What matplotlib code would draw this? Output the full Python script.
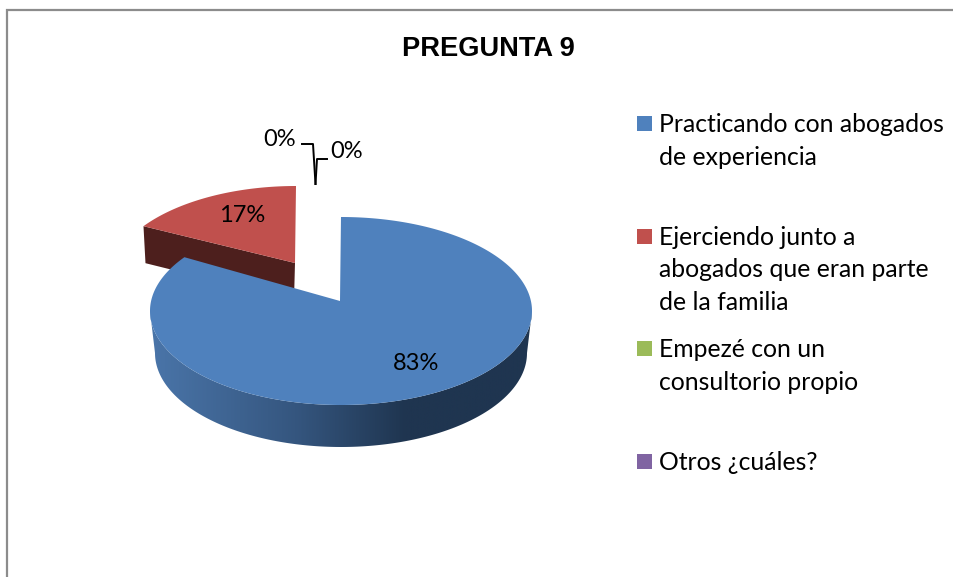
import numpy as np
import matplotlib
matplotlib.use('Agg')
import matplotlib.pyplot as plt
from matplotlib.patches import Polygon, Rectangle
from matplotlib.colors import LinearSegmentedColormap

title = 'PREGUNTA 9'
values = [83, 17, 0, 0]
labels = [['Practicando con abogados', 'de experiencia'],
          ['Ejerciendo junto a', 'abogados que eran parte', 'de la familia'],
          ['Empezé con un', 'consultorio propio'],
          ['Otros ¿cuáles?']]
colors = ['#4f81bd', '#c0504d', '#9bbb59', '#8064a2']

W, H = 954, 577
BODY = 'Lato'

# the picture is a 3D pie, so everything is placed in pixel coordinates
CX, CY = 341, 311
RX, RY = 191, 94
APEX_Y = 301
DEPTH = 42
RX_LOW = 186
RED_DX, RED_DY = -45, -31
RED_RX = 186
RED_APEX_Y = 263
RED_DEPTH = 37
PERSP = 0.9  # perspective squeezes the small slice


def rim(cx, cy, rx, ry, t0, t1, n=200):
    # t in degrees, clockwise from the top of the ellipse
    t = np.radians(np.linspace(t0, t1, n))
    return np.column_stack([cx + rx * np.sin(t), cy - ry * np.cos(t)])


fig = plt.figure(figsize=(W / 100, H / 100), dpi=100)
ax = fig.add_axes([0, 0, 1, 1])
ax.set_xlim(0, W)
ax.set_ylim(H, 0)
ax.axis('off')

# frame of the chart, only top and left fall inside the picture
ax.plot([7, 7, W + 5], [H + 5, 10, 10], color='#8c8c8c', lw=1.6, solid_joinstyle='miter')

ax.text(488, 49.5, title, family='Liberation Sans', weight='bold', fontsize=19.6,
        ha='center', va='center', color='black')

red_sweep = values[1] / sum(values) * 360 * PERSP
blue_sweep = 360 - red_sweep

# red slice, pulled out of the pie
rcx, rcy = CX + RED_DX, CY + RED_DY
red_rim = rim(rcx, rcy, RED_RX, RY, -red_sweep, 0)
red_apex = np.array([rcx - 1, RED_APEX_Y])
face = np.array([red_rim[0], red_rim[0] + [2, RED_DEPTH], red_apex + [-1, RED_DEPTH], red_apex])
ax.add_patch(Polygon(face, fc='#4d1f1d', ec='none', zorder=2))
ax.add_patch(Polygon(np.vstack([red_rim, [red_apex]]), fc=colors[1], ec='none', zorder=3))

# blue slice side wall with the dark gradient
upper = rim(CX, CY, RX, RY, 90, 270)
lower = rim(CX, CY + DEPTH, RX_LOW, RY, 90, 270)
wall = Polygon(np.vstack([upper, lower[::-1]]), fc='none', ec='none', zorder=4)
ax.add_patch(wall)
cmap = LinearSegmentedColormap.from_list('side', [(0, '#1f3550'), (0.33, '#1f3550'), (0.62, '#35567f'), (1, '#4a75a9')])
grad = np.linspace(0, 1, 400)[::-1].reshape(1, -1)
im = ax.imshow(grad, cmap=cmap, extent=[CX - RX, CX + RX, CY + DEPTH + RY, CY], aspect='auto', zorder=4)
im.set_clip_path(wall)
ax.set_xlim(0, W)
ax.set_ylim(H, 0)

# blue top
blue_rim = rim(CX, CY, RX, RY, 0, blue_sweep, 400)
ax.add_patch(Polygon(np.vstack([blue_rim, [[CX - 1, APEX_Y]]]), fc=colors[0], ec='none', zorder=5))

# data labels
body = dict(family=BODY, color='black', zorder=6)
ax.text(416, 364, f'{values[0]}%', fontsize=17, ha='center', va='center', **body)
ax.text(242.5, 216, f'{values[1]}%', fontsize=17, ha='center', va='center', **body)
ax.text(280, 139, f'{values[2]}%', fontsize=17, ha='center', va='center', **body)
ax.text(347, 152, f'{values[3]}%', fontsize=17, ha='center', va='center', **body)

# leader lines for the empty slices
ax.plot([302, 313, 315.5], [144, 144, 184], color='black', lw=1.4, zorder=6)
ax.plot([327, 317, 315.5], [159, 159, 184], color='black', lw=1.4, zorder=6)

# legend
for i, (lines, c) in enumerate(zip(labels, colors)):
    top = 116 + i * 112.7
    ax.add_patch(Rectangle((637, top), 15, 15, fc=c, ec='none'))
    for k, line in enumerate(lines):
        ax.text(659, top + 16 + k * 32.6, line, fontsize=17.8, ha='left', va='baseline', family=BODY, color='black')

fig.savefig('out.png', dpi=100)
